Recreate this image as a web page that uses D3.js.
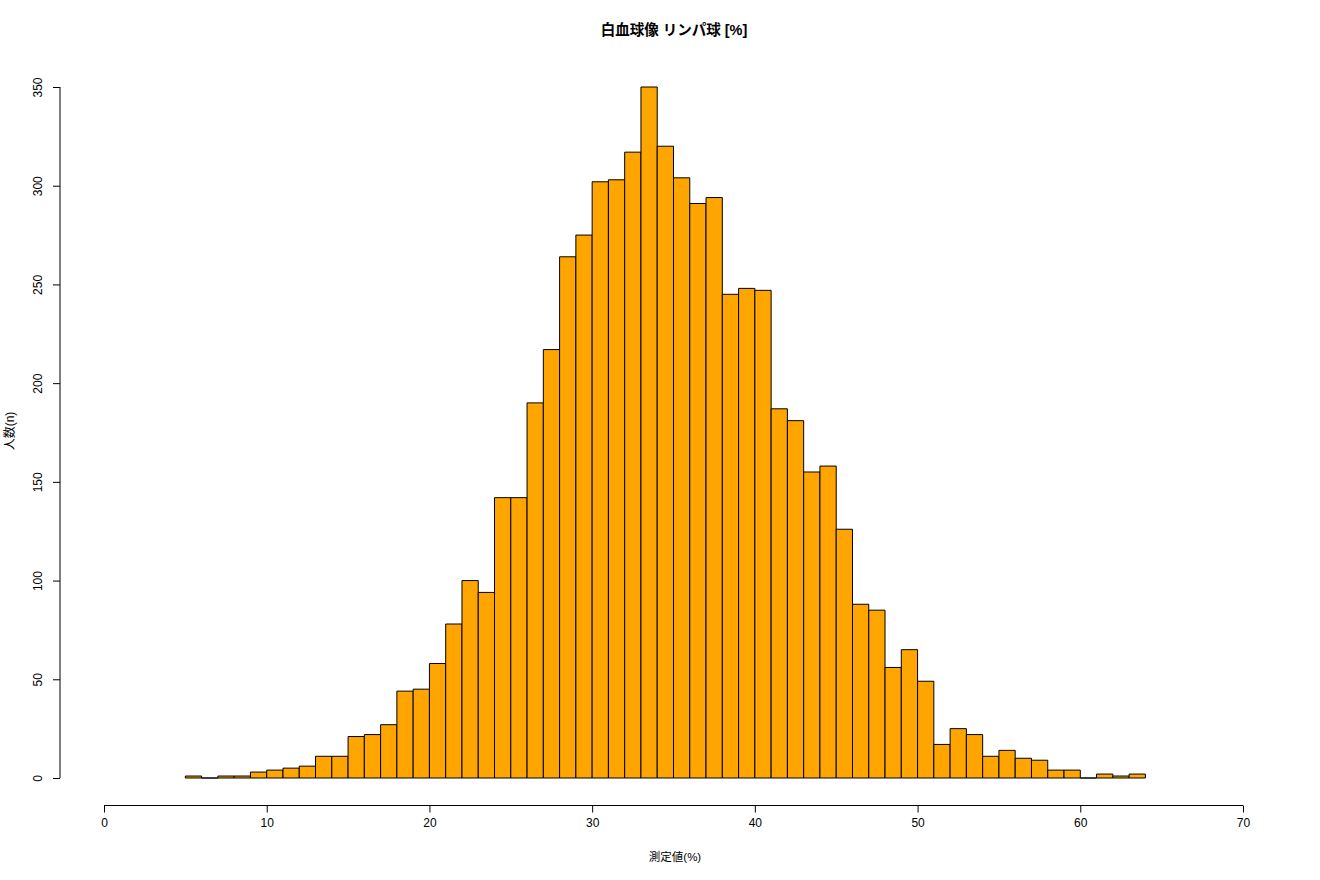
<!DOCTYPE html>
<html>
<head>
<meta charset="utf-8">
<script src="https://cdn.jsdelivr.net/npm/d3@7"></script>
<style>
body{margin:0;background:#fff;}
svg{display:block;}
</style>
</head>
<body>
<svg id="chart" width="1320" height="880"></svg>
<script>
const binStarts = [5,6,7,8,9,10,11,12,13,14,15,16,17,18,19,20,21,22,23,24,25,26,27,28,29,30,31,32,33,34,35,36,37,38,39,40,41,42,43,44,45,46,47,48,49,50,51,52,53,54,55,56,57,58,59,60,61,62,63];
const counts = [1,0,1,1,3,4,5,6,11,11,21,22,27,44,45,58,78,100,94,142,142,190,217,264,275,302,303,317,350,320,304,291,294,245,248,247,187,181,155,158,126,88,85,56,65,49,17,25,22,11,14,10,9,4,4,0,2,1,2];
const binWidth = 1;
const xTicks = [0,10,20,30,40,50,60,70];
const yTicks = [0,50,100,150,200,250,300,350];
const title = "白血球像 リンパ球 [%]";
const xLabel = "測定値(%)";
const yLabel = "人数(n)";

const svg = d3.select("#chart");
const font = "'Liberation Sans', Arial, Helvetica, sans-serif";
const cjk = "'Liberation Sans', 'Noto Sans CJK JP', sans-serif";

const x = d3.scaleLinear().domain([0,70]).range([104,1243]);
const y = d3.scaleLinear().domain([0,350]).range([778,87]);

// bars (drawn as closed paths so that zero-count bins still show a baseline)
svg.append("g").selectAll("path").data(binStarts).join("path")
  .attr("d", (d,i)=>{
    const x0 = x(d), x1 = x(d+binWidth), y0 = y(0), y1 = y(counts[i]);
    return `M${x0},${y0}L${x0},${y1}L${x1},${y1}L${x1},${y0}Z`;
  })
  .attr("fill", "#FFA500")
  .attr("stroke", "#000")
  .attr("stroke-width", 1);

// x axis
const xAxis = d3.axisBottom(x).tickValues(xTicks).tickSize(7).tickPadding(6).tickFormat(d3.format("d"));
const gx = svg.append("g").attr("transform","translate(0,805.5)").call(xAxis);
gx.select(".domain").attr("d", `M${x(0)},0H${x(70)}`).attr("stroke","#000");
gx.selectAll("text").attr("font-family", font).attr("font-size", 12).attr("fill","#000");
gx.selectAll(".tick line").attr("stroke","#000");

// y axis
const yAxis = d3.axisLeft(y).tickValues(yTicks).tickSize(7).tickPadding(0).tickFormat(d3.format("d"));
const gy = svg.append("g").attr("transform","translate(60,0)").call(yAxis);
gy.select(".domain").attr("d", `M0,${y(0)}V${y(350)}`).attr("stroke","#000");
gy.selectAll(".tick line").attr("stroke","#000");
gy.selectAll(".tick text")
  .attr("x", null).attr("dy", null)
  .attr("text-anchor","middle")
  .attr("transform","translate(-18,0) rotate(-90)")
  .attr("font-family", font).attr("font-size", 12).attr("fill","#000");

// title
svg.append("text").attr("x", 674).attr("y", 35).attr("text-anchor","middle")
  .attr("font-family", cjk).attr("font-weight","bold").attr("font-size", 14.5).text(title);

// x label
svg.append("text").attr("x", 675).attr("y", 861).attr("text-anchor","middle")
  .attr("font-family", cjk).attr("font-size", 11.5).text(xLabel);

// y label
svg.append("text").attr("transform","translate(14,431) rotate(-90)").attr("text-anchor","middle")
  .attr("font-family", cjk).attr("font-size", 12).text(yLabel);
</script>
</body>
</html>
